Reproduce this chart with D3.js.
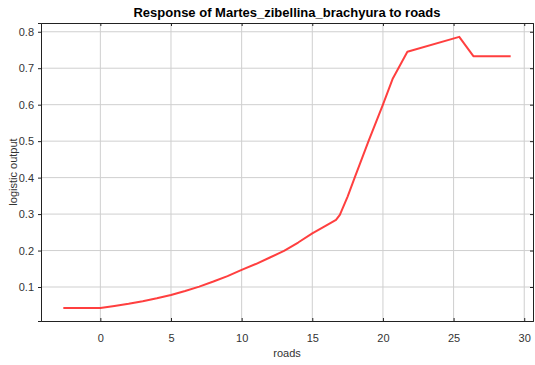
<!DOCTYPE html>
<html>
<head>
<meta charset="utf-8">
<script src="https://cdn.jsdelivr.net/npm/d3@7"></script>
<style>
  body { margin: 0; background: #fff; }
  svg { display: block; font-family: "Liberation Sans", Arial, sans-serif; }
  .tick text { fill: #333; font-size: 11px; }
  .grid line { stroke: #cfcfcf; stroke-width: 1; }
</style>
</head>
<body>
<div id="chart"></div>
<script>
// response curve
const roads = [-2.62, 0, 1, 2, 3, 4, 5, 6, 7, 8, 9, 10, 11, 12, 13, 14, 15, 16, 16.68, 16.95, 17.5, 18, 19, 20, 20.7, 21.73, 25.4, 26.4, 29.04];
const output = [0.0425, 0.0425, 0.048, 0.054, 0.061, 0.069, 0.078, 0.089, 0.101, 0.115, 0.130, 0.147, 0.163, 0.181, 0.199, 0.222, 0.247, 0.269, 0.284, 0.298, 0.348, 0.400, 0.502, 0.600, 0.672, 0.745, 0.786, 0.733, 0.733];
const xTicks = [0, 5, 10, 15, 20, 25, 30];
const yTicks = [0.1, 0.2, 0.3, 0.4, 0.5, 0.6, 0.7, 0.8];
const xDomain = [-4.2, 30.62], yDomain = [0.0068, 0.824];

const W = 535, H = 365, M = { top: 23, right: 2, bottom: 44, left: 41 };
const iw = W - M.left - M.right, ih = H - M.top - M.bottom;

const svg = d3.select("#chart").append("svg").attr("width", W).attr("height", H);
const g = svg.append("g").attr("transform", `translate(${M.left},${M.top})`);
const x = d3.scaleLinear().domain(xDomain).range([0, iw]);
const y = d3.scaleLinear().domain(yDomain).range([ih, 0]);

// grid
g.append("g").attr("class", "grid").selectAll("line").data(xTicks).join("line")
  .attr("x1", d => x(d)).attr("x2", d => x(d)).attr("y1", 0).attr("y2", ih);
g.append("g").attr("class", "grid").selectAll("line.h").data(yTicks).join("line")
  .attr("y1", d => y(d)).attr("y2", d => y(d)).attr("x1", 0).attr("x2", iw);

// axes, ticks pointing inward
const xa = g.append("g").attr("transform", `translate(0,${ih})`)
  .call(d3.axisBottom(x).tickValues(xTicks).tickSize(-3).tickPadding(13).tickFormat(d3.format("d")));
const ya = g.append("g")
  .call(d3.axisLeft(y).tickValues(yTicks).tickSize(3).tickPadding(4).tickFormat(d3.format(".1f")));
g.append("g").attr("transform", "translate(0,0)")
  .call(d3.axisTop(x).tickValues(xTicks).tickSize(-3).tickFormat(""));
g.append("g").attr("transform", `translate(${iw},0)`)
  .call(d3.axisRight(y).tickValues(yTicks).tickSize(-3).tickFormat(""));
svg.selectAll(".domain").attr("stroke", "#222");
svg.selectAll(".tick line").attr("stroke", "#222");
ya.selectAll(".tick line").attr("x2", -3).attr("x1", 0);

// curve
const line = d3.line().x((d, i) => x(roads[i])).y(d => y(d));
g.append("path").datum(output).attr("d", line)
  .attr("fill", "none").attr("stroke", "#ff2a2a").attr("stroke-width", 2)
  .attr("stroke-linejoin", "round").attr("stroke-opacity", 0.9);

// labels
svg.append("text").attr("x", M.left + iw / 2).attr("y", 17).attr("text-anchor", "middle")
  .style("font-weight", "bold").style("font-size", "13px").attr("fill", "#000")
  .text("Response of Martes_zibellina_brachyura to roads");
svg.append("text").attr("x", M.left + iw / 2).attr("y", 357).attr("text-anchor", "middle")
  .style("font-size", "11px").attr("fill", "#333").text("roads");
svg.append("text").attr("transform", `translate(17,${M.top + ih / 2}) rotate(-90)`).attr("text-anchor", "middle")
  .style("font-size", "11px").attr("fill", "#333").text("logistic output");
</script>
</body>
</html>
